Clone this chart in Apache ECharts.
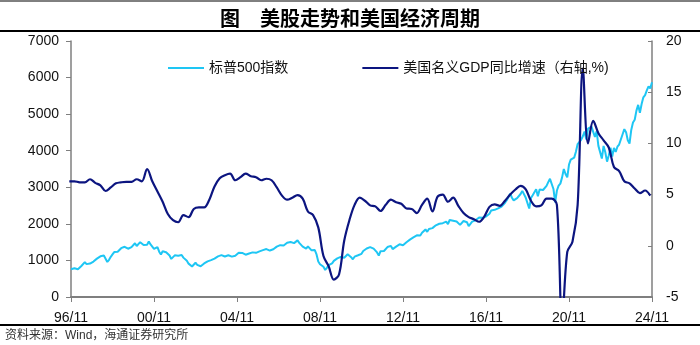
<!DOCTYPE html>
<html>
<head>
<meta charset="utf-8">
<script src="https://cdn.jsdelivr.net/npm/echarts@6/dist/echarts.min.js"></script>
<style>
  html, body { margin: 0; padding: 0; background: #fff; }
  #chart { width: 700px; height: 345px; }
</style>
</head>
<body>
<div id="chart"></div>
<script>
// x axis: months counted from 1996-11, one tick every 4 years
const tickLabels = ['96/11', '00/11', '04/11', '08/11', '12/11', '16/11', '20/11', '24/11'];
const titleText = '图　美股走势和美国经济周期';
const sourceText = '资料来源：Wind，海通证券研究所';
const spxName = '标普500指数';
const gdpName = '美国名义GDP同比增速（右轴,%)';

// S&P 500, monthly, 1996-11 .. 2024-11
const spx = [
  757, 741,
  786, 791, 757, 801, 848, 885, 954, 899, 947, 915, 955, 970,
  980, 1049, 1102, 1112, 1091, 1134, 1121, 957, 1017, 1099, 1164, 1229,
  1280, 1238, 1286, 1335, 1302, 1373, 1329, 1320, 1283, 1363, 1389, 1469,
  1394, 1366, 1499, 1452, 1421, 1455, 1431, 1518, 1437, 1429, 1315, 1320,
  1366, 1240, 1160, 1249, 1256, 1224, 1211, 1134, 1041, 1060, 1139, 1148,
  1130, 1107, 1147, 1077, 1067, 990, 912, 916, 835, 886, 936, 880,
  856, 841, 848, 917, 964, 975, 990, 1008, 996, 1051, 1058, 1112,
  1131, 1145, 1126, 1107, 1121, 1141, 1102, 1104, 1115, 1130, 1174, 1212,
  1181, 1204, 1181, 1157, 1192, 1191, 1234, 1220, 1229, 1207, 1249, 1248,
  1280, 1281, 1295, 1311, 1270, 1270, 1277, 1304, 1336, 1378, 1401, 1418,
  1438, 1407, 1421, 1482, 1531, 1503, 1455, 1474, 1527, 1549, 1481, 1468,
  1379, 1331, 1323, 1386, 1400, 1280, 1267, 1283, 1165, 969, 896, 903,
  826, 740, 798, 873, 919, 919, 987, 1021, 1057, 1036, 1096, 1115,
  1074, 1104, 1169, 1187, 1089, 1031, 1102, 1049, 1141, 1183, 1181, 1258,
  1286, 1327, 1326, 1364, 1345, 1321, 1292, 1219, 1131, 1253, 1247, 1258,
  1312, 1366, 1408, 1398, 1310, 1362, 1379, 1407, 1441, 1412, 1416, 1426,
  1498, 1515, 1569, 1598, 1631, 1606, 1686, 1633, 1682, 1757, 1806, 1848,
  1783, 1859, 1872, 1884, 1924, 1960, 1931, 2003, 1972, 2018, 2068, 2059,
  1995, 2105, 2068, 2086, 2107, 2063, 2104, 1972, 1920, 2079, 2080, 2044,
  1940, 1932, 2060, 2065, 2097, 2099, 2174, 2171, 2168, 2126, 2199, 2239,
  2279, 2364, 2363, 2384, 2412, 2423, 2470, 2472, 2519, 2575, 2648, 2674,
  2824, 2714, 2641, 2648, 2705, 2718, 2816, 2902, 2914, 2712, 2760, 2420,
  2704, 2784, 2834, 2946, 2752, 2942, 2980, 2926, 2977, 3038, 3141, 3231,
  3226, 2954, 2585, 2912, 3044, 3100, 3271, 3500, 3363, 3270, 3622, 3756,
  3714, 3811, 3973, 4181, 4204, 4298, 4395, 4523, 4308, 4605, 4567, 4660,
  4516, 4374, 4530, 4132, 4132, 3785, 4130, 3955, 3700, 3872, 4080, 3840,
  4077, 3970, 4109, 4169, 4180, 4450, 4589, 4508, 4288, 4194, 4568, 4770,
  4846, 5096, 5254, 5036, 5278, 5460, 5522, 5648, 5762, 5705, 5870
];

// US nominal GDP, YoY %, quarterly, 1996-10 .. 2024-10 (every 3 months)
const gdp = [
  6.3,
  6.3, 6.2, 6.2, 6.5,
  6.15, 5.9, 5.35, 5.7,
  6.1, 6.2, 6.25, 6.25,
  6.5, 6.3, 7.5, 6.3,
  5.3, 4.3, 3.1, 2.5,
  2.3, 3.0, 2.8, 3.6,
  3.75, 3.75, 4.5, 5.8,
  6.6, 6.9, 7.05, 6.4,
  6.7, 7.05, 6.8, 6.7,
  6.4, 6.55, 6.4, 5.7,
  4.9, 4.5, 4.7, 4.95,
  4.6, 3.35, 3.0, 1.8,
  -1.0, -2.0, -3.3, -2.8,
  0.5, 2.5, 4.0, 4.7,
  4.4, 3.95, 3.85, 3.4,
  4.0, 4.5, 4.25, 4.1,
  3.65, 3.6, 3.2, 4.0,
  4.6, 3.35, 4.8, 5.0,
  4.3, 4.7, 3.9, 3.2,
  2.8, 2.6, 2.35, 2.85,
  3.8, 4.05, 3.9, 4.4,
  5.0, 5.5, 5.85, 5.5,
  4.4, 3.85, 3.95, 4.6,
  4.6, 4.0, -7.5, -0.6,
  0.4, 4.0, 17.3, 10.0,
  12.2, 11.0, 10.3, 9.6,
  7.7, 7.3, 6.3, 6.1,
  5.6, 5.15, 5.4, 4.9
];

const spxData = spx.map((v, i) => [i, v]);
const gdpData = gdp.map((v, i) => [i * 3 - 1, v]);

const spxColor = '#1ec6f4';
const gdpColor = '#0c1580';
const latinCjk = '"Liberation Sans", Arial, "Noto Sans CJK SC", sans-serif';
const axisGray = '#7f7f7f';

const chart = echarts.init(document.getElementById('chart'), null, { renderer: 'canvas' });
chart.setOption({
  animation: false,
  backgroundColor: '#fff',
  title: {
    text: titleText,
    left: 'center',
    top: 3,
    textStyle: { fontFamily: '"Noto Sans CJK SC", sans-serif', fontSize: 20, fontWeight: 'bold', color: '#000' }
  },
  graphic: [
    { type: 'line', shape: { x1: 0, y1: 1, x2: 700, y2: 1 }, style: { stroke: '#000', lineWidth: 1 } },
    { type: 'line', shape: { x1: 0, y1: 31, x2: 700, y2: 31 }, style: { stroke: '#000', lineWidth: 2 } },
    { type: 'line', shape: { x1: 0, y1: 325, x2: 700, y2: 325 }, style: { stroke: '#000', lineWidth: 2 } },
    { type: 'text', left: 5, top: 330, style: { text: sourceText, fontSize: 12, fill: '#333', fontFamily: latinCjk } }
  ],
  legend: {
    data: [
      { name: spxName, icon: 'rect', itemStyle: { color: spxColor } },
      { name: gdpName, icon: 'rect', itemStyle: { color: gdpColor } }
    ],
    left: 163,
    top: 56,
    itemWidth: 36,
    itemHeight: 2,
    itemGap: 74,
    textStyle: { fontFamily: latinCjk, fontSize: 14, color: '#111' }
  },
  grid: { left: 71, right: 48, top: 41, bottom: 48, containLabel: false },
  xAxis: {
    type: 'value',
    min: 0,
    max: 336,
    interval: 48,
    axisLine: { lineStyle: { color: axisGray, width: 2 } },
    axisTick: { show: true, length: 5, lineStyle: { color: axisGray } },
    axisLabel: {
      margin: 14,
      fontFamily: latinCjk,
      fontSize: 14,
      color: '#111',
      formatter: v => tickLabels[Math.round(v / 48)] || ''
    },
    splitLine: { show: false }
  },
  yAxis: [
    {
      type: 'value',
      min: 0,
      max: 7000,
      interval: 1000,
      axisLine: { show: true, lineStyle: { color: axisGray, width: 1.5 } },
      axisTick: { show: true, length: 5, lineStyle: { color: axisGray } },
      axisLabel: { margin: 12, fontFamily: latinCjk, fontSize: 14, color: '#111', formatter: v => String(v) },
      splitLine: { show: false }
    },
    {
      type: 'value',
      min: -5,
      max: 20,
      interval: 5,
      position: 'right',
      axisLine: { show: true, lineStyle: { color: axisGray, width: 1.5 } },
      axisTick: { show: true, inside: true, length: 4, lineStyle: { color: axisGray } },
      axisLabel: { margin: 14, fontFamily: latinCjk, fontSize: 14, color: '#111' },
      splitLine: { show: false }
    }
  ],
  series: [
    {
      name: spxName,
      type: 'line',
      data: spxData,
      yAxisIndex: 0,
      symbol: 'none',
      smooth: false,
      lineStyle: { color: spxColor, width: 2 },
      itemStyle: { color: spxColor }
    },
    {
      name: gdpName,
      type: 'line',
      data: gdpData,
      yAxisIndex: 1,
      symbol: 'none',
      smooth: 0.35,
      clip: true,
      lineStyle: { color: gdpColor, width: 2.2 },
      itemStyle: { color: gdpColor }
    }
  ]
});
</script>
</body>
</html>
